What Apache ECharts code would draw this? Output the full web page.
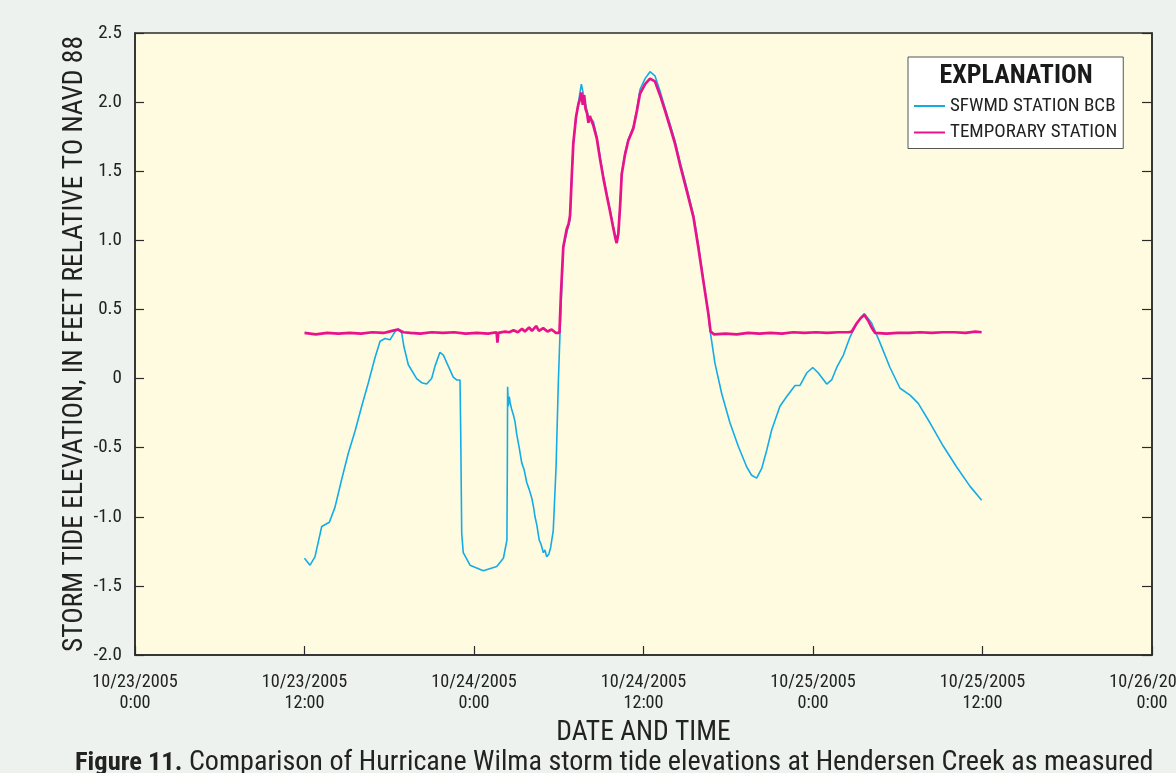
<!DOCTYPE html>
<html>
<head>
<meta charset="utf-8">
<script src="https://cdn.jsdelivr.net/npm/echarts@6/dist/echarts.min.js"></script>
<style>
html,body{margin:0;padding:0;background:#edf2ef;}
#chart{width:1176px;height:773px;}
</style>
</head>
<body>
<div id="chart"></div>
<script>
// Hours since 10/23/2005 0:00
const xTickLabels = ['10/23/2005\n0:00','10/23/2005\n12:00','10/24/2005\n0:00','10/24/2005\n12:00','10/25/2005\n0:00','10/25/2005\n12:00','10/26/2005\n0:00'];
const yTickLabels = ['-2.0','-1.5','-1.0','-0.5','0','0.5','1.0','1.5','2.0','2.5'];
const seriesNames = ['SFWMD STATION BCB','TEMPORARY STATION'];

const blueHours = [12.0,12.39,12.74,13.22,13.76,14.16,14.63,15.10,15.58,16.05,16.52,16.99,17.35,17.70,18.05,18.41,18.64,18.88,19.04,19.35,19.94,20.30,20.65,21.00,21.24,21.59,21.83,22.18,22.53,22.77,23.01,23.06,23.13,23.24,23.72,24.66,25.61,26.08,26.33,26.36,26.38,26.43,26.50,26.55,26.66,26.78,26.90,27.02,27.20,27.38,27.55,27.73,27.90,28.08,28.20,28.32,28.45,28.62,28.75,28.91,29.02,29.15,29.30,29.43,29.61,29.81,29.97,30.09,30.32,30.56,30.80,30.92,31.03,31.22,31.38,31.60,31.86,32.09,32.45,32.69,32.92,33.16,33.39,33.63,33.86,34.05,34.22,34.34,34.46,34.69,34.92,35.28,35.52,35.75,36.11,36.46,36.81,37.17,37.52,37.88,38.23,38.58,39.06,39.53,39.88,40.23,40.59,40.71,41.06,41.54,42.12,42.71,43.31,43.66,44.01,44.37,44.72,45.08,45.66,46.14,46.73,47.08,47.55,47.98,48.38,48.97,49.32,49.68,50.15,50.62,51.09,51.63,52.16,52.74,53.45,54.16,54.87,55.45,56.28,57.23,58.17,59.12,59.94];
const blueFeet = [-1.30,-1.35,-1.29,-1.07,-1.04,-0.93,-0.73,-0.54,-0.38,-0.20,-0.03,0.15,0.27,0.29,0.28,0.34,0.36,0.33,0.23,0.10,0.00,-0.03,-0.04,0.00,0.09,0.19,0.17,0.09,0.01,-0.01,-0.01,-0.40,-1.12,-1.26,-1.35,-1.39,-1.36,-1.30,-1.17,-0.64,-0.06,-0.20,-0.13,-0.17,-0.22,-0.26,-0.31,-0.40,-0.50,-0.61,-0.66,-0.75,-0.80,-0.86,-0.92,-1.00,-1.06,-1.17,-1.20,-1.26,-1.24,-1.29,-1.27,-1.22,-1.10,-0.64,-0.03,0.33,0.95,1.05,1.15,1.46,1.70,1.89,1.99,2.13,2.00,1.90,1.86,1.75,1.61,1.46,1.34,1.22,1.10,1.00,1.06,1.24,1.49,1.63,1.73,1.82,1.94,2.09,2.17,2.22,2.19,2.08,1.96,1.84,1.72,1.57,1.38,1.19,0.97,0.72,0.47,0.35,0.11,-0.11,-0.32,-0.49,-0.64,-0.70,-0.72,-0.65,-0.52,-0.37,-0.20,-0.13,-0.05,-0.05,0.04,0.08,0.04,-0.04,-0.01,0.08,0.17,0.30,0.40,0.47,0.40,0.26,0.08,-0.07,-0.12,-0.18,-0.32,-0.49,-0.64,-0.78,-0.88];

const tempHours = [12.0,12.8,13.6,14.4,15.2,16.0,16.8,17.6,18.2,18.6,19.0,19.5,20.2,21.0,21.8,22.6,23.4,24.2,25.0,25.6,25.66,25.72,26.2,26.5,26.8,27.1,27.4,27.6,27.9,28.1,28.4,28.6,28.9,29.2,29.5,29.8,30.05,30.15,30.32,30.45,30.56,30.7,30.8,30.92,31.03,31.22,31.38,31.5,31.6,31.7,31.8,31.9,32.0,32.1,32.2,32.45,32.69,32.92,33.16,33.39,33.63,33.86,34.0,34.1,34.22,34.34,34.46,34.69,34.92,35.28,35.52,35.75,36.11,36.46,36.81,37.17,37.52,37.88,38.23,38.58,39.06,39.53,39.88,40.23,40.59,40.75,41.0,41.8,42.6,43.4,44.2,45.0,45.8,46.6,47.4,48.2,49.0,49.8,50.5,50.75,51.1,51.4,51.63,51.9,52.2,52.4,53.2,54.0,54.8,55.6,56.4,57.2,58.0,58.8,59.5,59.94];
const tempFeet = [0.33,0.32,0.33,0.325,0.33,0.325,0.335,0.33,0.345,0.355,0.335,0.33,0.325,0.335,0.33,0.335,0.325,0.33,0.325,0.335,0.26,0.33,0.34,0.335,0.35,0.335,0.36,0.34,0.37,0.345,0.38,0.345,0.365,0.34,0.355,0.33,0.33,0.6,0.95,1.02,1.08,1.12,1.18,1.46,1.70,1.89,1.98,2.02,2.07,1.98,2.05,1.95,1.92,1.85,1.90,1.83,1.74,1.59,1.45,1.33,1.21,1.09,1.02,0.98,1.05,1.24,1.48,1.62,1.72,1.81,1.93,2.06,2.13,2.17,2.15,2.05,1.94,1.82,1.70,1.55,1.36,1.17,0.95,0.71,0.47,0.34,0.32,0.325,0.32,0.33,0.325,0.33,0.325,0.335,0.33,0.335,0.33,0.335,0.335,0.34,0.40,0.44,0.46,0.42,0.36,0.33,0.325,0.33,0.33,0.335,0.33,0.335,0.335,0.33,0.34,0.335];

const FONT = '"Roboto Condensed","Liberation Sans Narrow","Arial Narrow","DejaVu Sans Condensed",sans-serif';
const AX = '#2b2b2b';

function zip(a, b) { return a.map((v, i) => [v, b[i]]); }

const chart = echarts.init(document.getElementById('chart'), null, {renderer: 'canvas'});
chart.setOption({
  backgroundColor: '#edf2ef',
  animation: false,
  grid: {left: 135, top: 33, right: 24, bottom: 118, show: true, backgroundColor: '#fefbe0', borderColor: AX, borderWidth: 1.5,
    outerBoundsMode: 'none', containLabel: false},
  xAxis: {
    type: 'value', min: 0, max: 72, interval: 12,
    name: 'DATE AND TIME', nameLocation: 'middle', nameGap: 61,
    nameTextStyle: {fontFamily: FONT, fontSize: 27.5, color: '#222'},
    axisLine: {show: true, onZero: false, lineStyle: {color: AX, width: 1.5}},
    axisTick: {show: true, inside: true, length: 9, lineStyle: {color: AX, width: 1.2}},
    axisLabel: {fontFamily: FONT, fontSize: 18.2, color: '#222', lineHeight: 21, margin: 17,
      formatter: v => xTickLabels[Math.round(v / 12)] || ''},
    splitLine: {show: false}
  },
  yAxis: [{
    type: 'value', min: -2, max: 2.5, interval: 0.5,
    name: 'STORM TIDE ELEVATION, IN FEET RELATIVE TO NAVD 88', nameLocation: 'middle', nameGap: 46, nameRotate: 90,
    nameMoveOverlap: false,
    nameTextStyle: {fontFamily: FONT, fontSize: 27.5, color: '#222'},
    axisLine: {show: true, onZero: false, lineStyle: {color: AX, width: 1.5}},
    axisTick: {show: true, inside: true, length: 9, lineStyle: {color: AX, width: 1.2}},
    axisLabel: {fontFamily: FONT, fontSize: 19, color: '#222', margin: 13,
      formatter: v => yTickLabels[Math.round((v + 2) / 0.5)]},
    splitLine: {show: false}
  }, {
    type: 'value', min: -2, max: 2.5, interval: 0.5, position: 'right',
    axisLine: {show: true, onZero: false, lineStyle: {color: AX, width: 1.5}},
    axisTick: {show: true, inside: true, length: 10, lineStyle: {color: AX, width: 1.2}},
    axisLabel: {show: false},
    splitLine: {show: false}
  }],
  legend: {
    orient: 'vertical', left: 908, top: 57,
    padding: [39, 6, 6, 6], itemGap: 6.5,
    backgroundColor: '#ffffff', borderColor: '#555', borderWidth: 1,
    icon: 'rect', itemWidth: 31, itemHeight: 2,
    textStyle: {fontFamily: FONT, fontSize: 19, color: '#222', lineHeight: 20},
    data: seriesNames
  },
  series: [
    {name: seriesNames[0], type: 'line', data: zip(blueHours, blueFeet), showSymbol: false, symbol: 'none',
     lineStyle: {color: '#14ace6', width: 1.6}, itemStyle: {color: '#14ace6'}, z: 2},
    {name: seriesNames[1], type: 'line', data: zip(tempHours, tempFeet), showSymbol: false, symbol: 'none',
     lineStyle: {color: '#e8128a', width: 2.7}, itemStyle: {color: '#e8128a'}, z: 3}
  ],
  graphic: [
    {type: 'text', x: 1016, y: 76, z: 100, silent: true,
     style: {text: 'EXPLANATION', fontFamily: FONT, fontWeight: 'bold', fontSize: 26, fill: '#1a1a1a', align: 'center', verticalAlign: 'middle'}},
    {type: 'text', x: 75, y: 749, z: 100, silent: true,
     style: {text: '{b|Figure 11.} Comparison of Hurricane Wilma storm tide elevations at Hendersen Creek as measured',
       fontFamily: FONT, fontSize: 28.1, fill: '#222',
       rich: {b: {fontFamily: FONT, fontWeight: 'bold', fontSize: 26.5, fill: '#222'}}}}
  ]
});
</script>
</body>
</html>
